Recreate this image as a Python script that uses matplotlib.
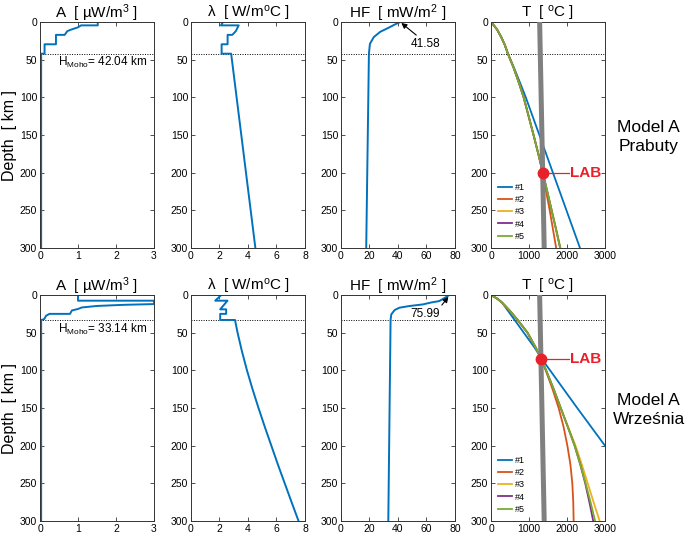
import matplotlib
matplotlib.use('Agg')
import matplotlib.pyplot as plt

plt.rcParams['font.family'] = ['Liberation Sans', 'DejaVu Sans']
plt.rcParams['mathtext.fontset'] = 'custom'
plt.rcParams['mathtext.rm'] = 'Liberation Sans'

# ---- Model A Prabuty ----
moho_prab = 42.04
a_prab_z = [0, 4.4, 4.4, 7, 10, 12, 17, 17, 29.5, 29.5, 42, 42, 300]
a_prab = [1.52, 1.52, 1.08, 1.0, 0.82, 0.72, 0.65, 0.42, 0.42, 0.12, 0.12, 0.03, 0.03]
lam_prab_z = [0, 4.4, 4.4, 12, 17, 17, 29.5, 29.5, 42, 42, 300]
lam_prab = [2.25, 2.1, 3.35, 3.15, 2.9, 2.57, 2.57, 2.15, 2.15, 2.82, 4.52]
hf_prab_z = [0, 3, 7, 13, 20, 29, 42, 300]
hf_prab = [41.58, 38, 34, 27.5, 23, 20.3, 19.6, 17.7]
t_prab_z = [0, 5, 10, 20, 30, 42, 60, 80, 100, 125, 150, 175, 200, 225, 250, 275, 300]
t_prab = {
    '#1': [0, 85, 160, 270, 360, 445, 600, 760, 916, 1094, 1273, 1451, 1629, 1808, 1986, 2164, 2342],
    '#2': [0, 85, 160, 270, 360, 445, 590, 730, 860, 990, 1120, 1245, 1360, 1450, 1545, 1630, 1715],
    '#3': [0, 85, 160, 270, 360, 445, 590, 730, 860, 990, 1120, 1245, 1365, 1482, 1600, 1715, 1830],
    '#4': [0, 85, 160, 270, 360, 445, 590, 730, 860, 990, 1120, 1245, 1365, 1480, 1595, 1710, 1820],
    '#5': [0, 85, 160, 270, 360, 445, 590, 730, 860, 990, 1120, 1245, 1365, 1480, 1595, 1710, 1820],
}
lab_prab = (1365, 200)

# ---- Model A Wrzesnia ----
moho_wrz = 33.14
a_wrz_z = [0, 7.5, 7.5, 12, 13, 14.5, 16.5, 18.5, 20.5, 25, 25, 27.5, 32, 33.1, 300]
a_wrz = [1.0, 1.0, 3.0, 3.0, 2.2, 1.5, 1.1, 1.0, 0.84, 0.79, 0.25, 0.16, 0.11, 0.03, 0.03]
lam_wrz_z = [0, 7.5, 7.5, 19, 19, 25, 25, 33.1, 33.1, 50, 75, 100, 125, 150, 175,
             200, 225, 250, 275, 300]
lam_wrz = [2.12, 1.7, 2.56, 2.05, 2.47, 2.47, 2.05, 2.05, 3.09, 3.27, 3.58, 3.93,
           4.32, 4.74, 5.18, 5.64, 6.1, 6.58, 7.06, 7.55]
hf_wrz_z = [0, 3, 8, 10, 12.4, 14.6, 16.8, 20, 25.7, 33, 300]
hf_wrz = [75.99, 73.5, 69, 63, 57.6, 48, 41, 37.6, 35.3, 34.8, 33.2]
t_wrz_z = [0, 5, 10, 20, 33, 50, 70, 85, 100, 125, 150, 175, 200, 225, 250, 275, 300]
t_wrz = {
    '#1': [0, 170, 290, 433, 620, 863, 1149, 1340, 1555, 1912, 2270, 2635, 3000, 3360, 3715, 4070, 4430],
    '#2': [0, 170, 290, 480, 700, 960, 1180, 1321, 1440, 1620, 1780, 1910, 2010, 2090, 2140, 2165, 2175],
    '#3': [0, 170, 290, 480, 700, 960, 1180, 1321, 1450, 1650, 1835, 2030, 2225, 2390, 2545, 2700, 2860],
    '#4': [0, 170, 290, 480, 700, 960, 1180, 1321, 1450, 1650, 1835, 2020, 2200, 2350, 2480, 2590, 2690],
    '#5': [0, 170, 290, 480, 700, 960, 1180, 1321, 1450, 1650, 1835, 2020, 2200, 2350, 2490, 2620, 2740],
}
lab_wrz = (1321, 85)

adiabat_t = [1280, 1400]
adiabat_z = [0, 300]

BLUE = '#0072BD'
T_COLORS = ['#0072BD', '#D95319', '#EDB120', '#7E2F8E', '#77AC30']
RED = '#E8202A'
SPINE = '#333333'

fig = plt.figure(figsize=(6.85, 5.38), dpi=100)

lefts = [0.0584, 0.2788, 0.4978, 0.7168]
width = 0.1664
height = 0.420
bottoms = [0.539, 0.0316]


def style(ax, xlim, xticks):
    ax.set_xlim(*xlim)
    ax.set_xticks(xticks)
    ax.set_ylim(300, 0)
    ax.set_yticks(range(0, 301, 50))
    ax.tick_params(direction='in', top=True, right=True, length=3, width=0.6,
                   labelsize=7.5, pad=2, color=SPINE)
    for s in ax.spines.values():
        s.set_color(SPINE)
        s.set_linewidth(0.7)


def row(bottom, a_z, a, lam_z, lam, hf_z, hf, t_z, t_sets, moho, lab,
        hf_label, hf_text_xy, hf_relpos, hf_xy, model):
    axA = fig.add_axes([lefts[0], bottom, width, height])
    axL = fig.add_axes([lefts[1], bottom, width, height])
    axH = fig.add_axes([lefts[2], bottom, width, height])
    axT = fig.add_axes([lefts[3], bottom, width, height])

    axA.plot(a, a_z, color=BLUE, lw=1.4)
    style(axA, (0, 3), [0, 1, 2, 3])
    axA.set_title('A  [ µW/m$\\mathregular{^3}$ ]', fontsize=11, pad=3)
    axA.set_ylabel('Depth  [ km ]', fontsize=11.5, labelpad=2)
    axA.text(0.47, moho + 12, '$\\mathregular{H_{Moho}}$= %.2f km' % moho,
             fontsize=8.5, va='center', ha='left')

    axL.plot(lam, lam_z, color=BLUE, lw=1.4)
    style(axL, (0, 8), [0, 2, 4, 6, 8])
    axL.set_title('λ  [ W/m$\\mathregular{^o}$C ]', fontsize=11, pad=3)

    axH.plot(hf, hf_z, color=BLUE, lw=1.4)
    style(axH, (0, 80), [0, 20, 40, 60, 80])
    axH.set_title('HF  [ mW/m$\\mathregular{^2}$ ]', fontsize=11, pad=3)
    axH.annotate(hf_label, xy=hf_xy, xytext=hf_text_xy, fontsize=8.5,
                 ha='left', va='center',
                 arrowprops=dict(arrowstyle='-|>', color='k', lw=0.8,
                                 mutation_scale=8, relpos=hf_relpos,
                                 shrinkA=0, shrinkB=1))

    lines = []
    for (name, vals), c in zip(t_sets.items(), T_COLORS):
        ln, = axT.plot(vals, t_z, color=c, lw=1.3, label=name)
        lines.append(ln)
    axT.plot(adiabat_t, adiabat_z, color='#808080', lw=3.6, zorder=3)
    style(axT, (0, 3000), [0, 1000, 2000, 3000])
    axT.set_title('T  [ $\\mathregular{^o}$C ]', fontsize=11, pad=3)
    axT.plot([lab[0], 2040], [lab[1], lab[1]], color=RED, lw=0.9,
             clip_on=False, zorder=4)
    axT.plot([lab[0]], [lab[1]], 'o', color=RED, ms=7.5, zorder=5)
    axT.text(2070, lab[1], 'LAB', color=RED, fontsize=11, fontweight='bold',
             va='center', ha='left', zorder=5)
    axT.legend(handles=lines, loc='lower left', frameon=False, fontsize=6.5,
               handlelength=1.5, handletextpad=0.4, labelspacing=0.35,
               borderaxespad=0.6, borderpad=0.2)

    for ax in (axA, axL, axH, axT):
        ax.axhline(moho, color='k', ls=(0, (1, 1.5)), lw=0.7, zorder=1)

    fig.text(0.947, bottom + height * 0.5 - 0.004, model, fontsize=12.5,
             ha='center', va='center', linespacing=1.3)


row(bottoms[0], a_prab_z, a_prab, lam_prab_z, lam_prab, hf_prab_z, hf_prab,
    t_prab_z, t_prab, moho_prab, lab_prab,
    '41.58', (49, 29), (0.3, 1.0), (41.58, 0), 'Model A\nPrabuty')
row(bottoms[1], a_wrz_z, a_wrz, lam_wrz_z, lam_wrz, hf_wrz_z, hf_wrz,
    t_wrz_z, t_wrz, moho_wrz, lab_wrz,
    '75.99', (48.5, 25), (1.0, 1.0), (75.99, 1), 'Model A\nWrześnia')

fig.savefig('out.png', dpi=100)
